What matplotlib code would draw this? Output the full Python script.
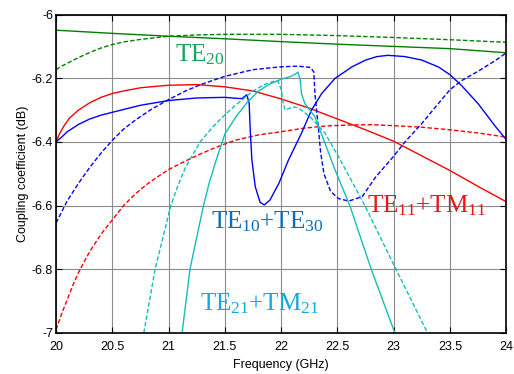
import matplotlib
matplotlib.use("Agg")
import matplotlib.pyplot as plt

plt.rcParams['font.family'] = ['Liberation Sans', 'DejaVu Sans']
plt.rcParams['mathtext.fontset'] = 'custom'
plt.rcParams['mathtext.rm'] = 'Liberation Serif'
plt.rcParams['mathtext.it'] = 'Liberation Serif:italic'

# ---- coupling coefficient curves (frequency in GHz, coefficient in dB) ----
te20_f = [20.0, 20.5, 21.0, 21.5, 22.0, 22.5, 23.0, 23.5, 24.0]
te20_solid = [-6.049, -6.059, -6.068, -6.076, -6.085, -6.093, -6.100, -6.107, -6.120]
te20d_f = [20.0, 20.05, 20.1, 20.2, 20.3, 20.4, 20.5, 20.6, 20.75, 20.9, 21.0, 21.25, 21.5,
           22.0, 22.5, 23.0, 23.5, 24.0]
te20_dash = [-6.173, -6.162, -6.153, -6.135, -6.119, -6.105, -6.094, -6.086, -6.078, -6.072,
             -6.068, -6.064, -6.062, -6.062, -6.066, -6.072, -6.079, -6.087]

te11_f = [20.0, 20.03, 20.07, 20.12, 20.2, 20.3, 20.4, 20.5, 20.6, 20.75, 20.9, 21.0, 21.25,
          21.5, 21.75, 22.0, 22.25, 22.5, 22.75, 23.0, 23.25, 23.5, 23.75, 24.0]
te11_solid = [-6.400, -6.375, -6.350, -6.325, -6.300, -6.277, -6.260, -6.248, -6.240, -6.230,
              -6.225, -6.222, -6.220, -6.227, -6.240, -6.265, -6.294, -6.328, -6.362, -6.398,
              -6.444, -6.490, -6.540, -6.588]
te11d_f = [20.0, 20.05, 20.1, 20.15, 20.2, 20.3, 20.4, 20.5, 20.6, 20.7, 20.8, 20.9, 21.0,
           21.15, 21.3, 21.45, 21.6, 21.8, 22.0, 22.2, 22.4, 22.6, 22.8, 23.0, 23.25, 23.5,
           23.75, 24.0]
te11_dash = [-6.990, -6.940, -6.895, -6.850, -6.810, -6.744, -6.690, -6.645, -6.600, -6.565,
             -6.535, -6.510, -6.487, -6.460, -6.435, -6.413, -6.394, -6.378, -6.368, -6.357,
             -6.350, -6.347, -6.346, -6.349, -6.354, -6.362, -6.372, -6.385]

te10_f = [20.0, 20.05, 20.1, 20.2, 20.3, 20.4, 20.5, 20.75, 21.0, 21.25, 21.5, 21.6, 21.65,
          21.695, 21.716, 21.724, 21.74, 21.77, 21.813, 21.85, 21.90, 21.98, 22.065, 22.18,
          22.27, 22.36, 22.48, 22.63, 22.75, 22.85, 22.95, 23.1, 23.25, 23.4, 23.5, 23.6,
          23.75, 23.9, 24.0]
te10_solid = [-6.400, -6.385, -6.368, -6.345, -6.328, -6.316, -6.307, -6.285, -6.270, -6.262,
              -6.260, -6.263, -6.264, -6.252, -6.279, -6.353, -6.457, -6.541, -6.590, -6.598,
              -6.583, -6.530, -6.457, -6.373, -6.300, -6.248, -6.200, -6.164, -6.143, -6.132,
              -6.128, -6.132, -6.143, -6.165, -6.189, -6.222, -6.280, -6.350, -6.393]
te10d_f = [20.0, 20.1, 20.2, 20.3, 20.4, 20.5, 20.6, 20.71, 20.85, 21.0, 21.15, 21.3, 21.5,
           21.75, 22.0, 22.15, 22.26, 22.29, 22.30, 22.33, 22.35, 22.38, 22.44, 22.51, 22.60,
           22.72, 22.84, 23.0, 23.1, 23.25, 23.4, 23.5, 23.6, 23.75, 23.9, 24.0]
te10_dash = [-6.655, -6.585, -6.530, -6.480, -6.435, -6.395, -6.360, -6.330, -6.297, -6.267,
             -6.240, -6.218, -6.194, -6.173, -6.164, -6.162, -6.166, -6.180, -6.248, -6.353,
             -6.431, -6.500, -6.556, -6.578, -6.586, -6.572, -6.510, -6.445, -6.400, -6.342,
             -6.278, -6.236, -6.208, -6.178, -6.145, -6.120]

te21_f = [21.12, 21.155, 21.19, 21.25, 21.31, 21.36, 21.42, 21.50, 21.60, 21.70, 21.80, 21.90,
          22.00, 22.08, 22.12, 22.15, 22.17, 22.18, 22.21, 22.30, 22.39, 22.48, 22.61, 22.80,
          23.01]
te21_solid = [-7.0, -6.9, -6.8, -6.7, -6.6, -6.53, -6.46, -6.375, -6.32, -6.275, -6.240,
              -6.218, -6.203, -6.195, -6.188, -6.181, -6.206, -6.248, -6.279, -6.321, -6.405,
              -6.489, -6.600, -6.800, -7.0]
te21d_f = [20.78, 20.83, 20.88, 20.95, 21.02, 21.08, 21.15, 21.28, 21.40, 21.50, 21.60, 21.75,
           21.85, 21.93, 21.97, 22.00, 22.02, 22.035, 22.07, 22.11, 22.15, 22.18, 22.27, 22.39,
           22.51, 22.63, 22.75, 23.02, 23.30]
te21_dash = [-7.0, -6.9, -6.8, -6.7, -6.6, -6.54, -6.48, -6.40, -6.35, -6.315, -6.283, -6.240,
             -6.220, -6.210, -6.208, -6.235, -6.279, -6.300, -6.295, -6.290, -6.293, -6.300,
             -6.326, -6.373, -6.447, -6.525, -6.605, -6.800, -7.0]

x_ticks = [20, 20.5, 21, 21.5, 22, 22.5, 23, 23.5, 24]
x_labels = ['20', '20.5', '21', '21.5', '22', '22.5', '23', '23.5', '24']
y_ticks = [-7, -6.8, -6.6, -6.4, -6.2, -6]
y_labels = ['-7', '-6.8', '-6.6', '-6.4', '-6.2', '-6']

GREEN = '#008000'
RED = '#FF0000'
BLUE = '#0000FF'
CYAN = '#14BDBD'
DASH = (0, (3.2, 1.6))

fig = plt.figure(figsize=(5.14, 3.74), dpi=100)
ax = fig.add_axes([0.109, 0.110, 0.876, 0.851])

lw = 1.0
ax.plot(te20_f, te20_solid, color=GREEN, lw=lw)
ax.plot(te20d_f, te20_dash, color=GREEN, lw=lw, ls=DASH)
ax.plot(te11_f, te11_solid, color=RED, lw=lw)
ax.plot(te11d_f, te11_dash, color=RED, lw=lw, ls=DASH)
ax.plot(te10_f, te10_solid, color=BLUE, lw=lw)
ax.plot(te10d_f, te10_dash, color=BLUE, lw=lw, ls=DASH)
ax.plot(te21_f, te21_solid, color=CYAN, lw=lw)
ax.plot(te21d_f, te21_dash, color=CYAN, lw=lw, ls=DASH)

ax.set_xlim(20, 24)
ax.set_ylim(-7, -6)
ax.set_xticks(x_ticks)
ax.set_xticklabels(x_labels)
ax.set_yticks(y_ticks)
ax.set_yticklabels(y_labels)
ax.tick_params(direction='in', top=True, right=True, length=4, width=0.8, labelsize=9)
ax.tick_params(axis='x', pad=6)
ax.tick_params(axis='y', pad=2)
ax.grid(True, color='#8c8c8c', lw=0.8)
ax.set_axisbelow(True)
for s in ax.spines.values():
    s.set_linewidth(1.2)

ax.set_xlabel('Frequency (GHz)', fontsize=9, labelpad=4)
ax.set_ylabel('Coupling coefficient (dB)', fontsize=9, labelpad=2)

serif = ['Liberation Serif', 'DejaVu Serif']
ax.text(21.06, -6.148, r'TE$_{\mathrm{20}}$', color='#18A55A', fontsize=18, family=serif)
ax.text(21.38, -6.673, r'TE$_{\mathrm{10}}$+TE$_{\mathrm{30}}$', color='#0A6EBE',
        fontsize=18, family=serif)
ax.text(21.28, -6.928, r'TE$_{\mathrm{21}}$+TM$_{\mathrm{21}}$', color='#12A9E2',
        fontsize=18, family=serif)
ax.text(22.76, -6.623, r'TE$_{\mathrm{11}}$+TM$_{\mathrm{11}}$', color='#F01414',
        fontsize=18, family=serif)

fig.savefig('out.png', dpi=100)
